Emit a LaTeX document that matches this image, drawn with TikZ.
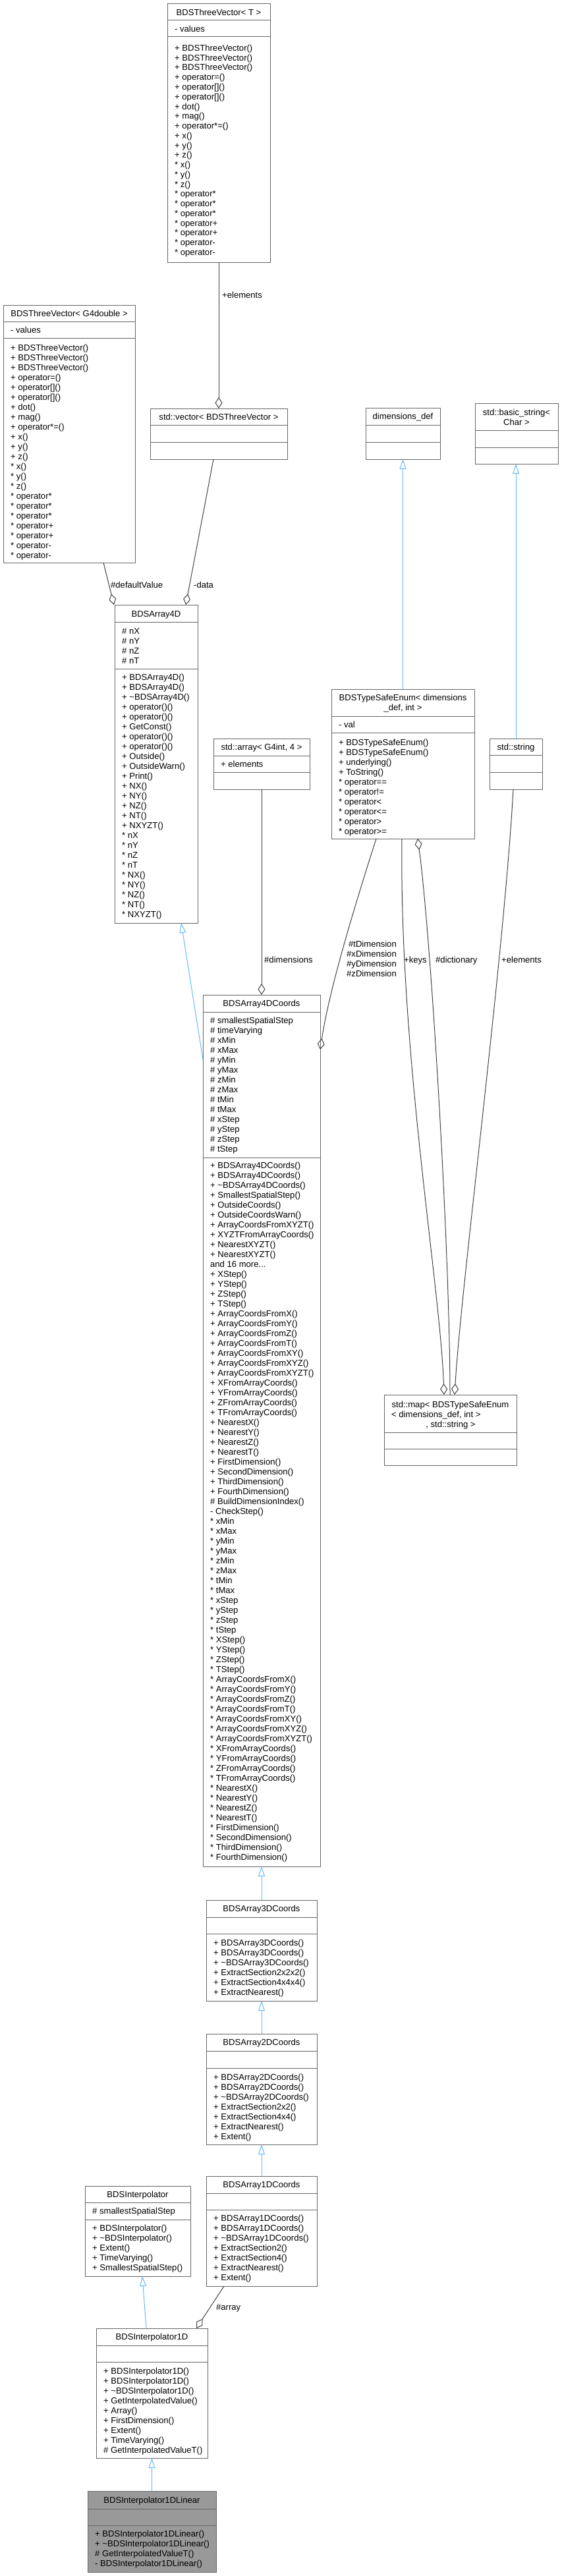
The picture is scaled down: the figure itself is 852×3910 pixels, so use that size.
\documentclass[tikz,border=0pt]{standalone}
\usepackage{fontspec}
\setmainfont{Liberation Sans}
\usetikzlibrary{arrows.meta}
\definecolor{boxc}{HTML}{666666}
\definecolor{aggc}{HTML}{404040}
\definecolor{inhc}{HTML}{63B8FF}
\definecolor{selc}{HTML}{999999}
\tikzset{
  clsbox/.style={draw=boxc, line width=1pt, anchor=north west, inner sep=0pt, outer sep=0pt, rectangle},
  sepline/.style={draw=boxc, line width=1pt},
  txt/.style={anchor=base west, inner sep=0pt, font=\fontsize{13.08}{15}\selectfont},
  ttl/.style={anchor=base, inner sep=0pt, font=\fontsize{13.08}{15}\selectfont},
  lbl/.style={anchor=base west, inner sep=0pt, font=\fontsize{13.08}{15}\selectfont},
  lblr/.style={anchor=base east, inner sep=0pt, font=\fontsize{13.08}{15}\selectfont},
  inh/.style={draw=inhc, line width=1pt, -{Triangle[open, length=15pt, width=10pt]}},
  agg/.style={draw=aggc, line width=1pt, -{Diamond[open, length=17pt, width=11pt]}},
  aggrev/.style={draw=aggc, line width=1pt, {Diamond[open, length=17pt, width=11pt]}-},
}
% name, x, y, w, h, fill
\newcommand\mkbox[6]{\node[clsbox, fill=#6, minimum width=#4pt, minimum height=#5pt] (#1) at (#2,#3) {};}
% node, offset from top
\newcommand\mksep[2]{\draw[sepline] ([yshift=-#2pt]#1.north west) -- ([yshift=-#2pt]#1.north east);}
% prefix, x, first baseline, spacing, list
\newcommand\mklines[5]{\foreach \t [count=\i from 0] in {#5} {\node[txt] (#1-\i) at ({#2},{#3+\i*#4}) {\t};}}
\begin{document}
\begin{tikzpicture}[x=1pt,y=-1pt]
\useasboundingbox (0,0) rectangle (852,3910);

% ---------- BDSThreeVector< T >
\mkbox{TVT}{254}{6}{156}{392}{white}
\mksep{TVT}{25}\mksep{TVT}{50}
\node[ttl] (TVT-t) at (332,23.5) {BDSThreeVector< T >};
\mklines{tvta}{265}{49}{15}{- values}
\mklines{tvtm}{265}{77.5}{14.75}{+ BDSThreeVector(), + BDSThreeVector(), + BDSThreeVector(), + operator=(), + operator[](), + operator[](), + dot(), + mag(), + operator*=(), + x(), + y(), + z(), * x(), * y(), * z(), * operator*, * operator*, * operator*, * operator+, * operator+, * operator-, * operator-}

% ---------- BDSThreeVector< G4double >
\mkbox{TVG}{5}{463}{200}{391}{white}
\mksep{TVG}{25}\mksep{TVG}{50}
\node[ttl] (TVG-t) at (105,480.5) {BDSThreeVector< G4double >};
\mklines{tvga}{16}{505.5}{15}{- values}
\mklines{tvgm}{16}{532.5}{15}{+ BDSThreeVector(), + BDSThreeVector(), + BDSThreeVector(), + operator=(), + operator[](), + operator[](), + dot(), + mag(), + operator*=(), + x(), + y(), + z(), * x(), * y(), * z(), * operator*, * operator*, * operator*, * operator+, * operator+, * operator-, * operator-}

% ---------- std::vector< BDSThreeVector >
\mkbox{VEC}{228}{620}{208}{77}{white}
\mksep{VEC}{25}\mksep{VEC}{51}
\node[ttl] (VEC-t) at (332,637.5) {std::vector< BDSThreeVector >};

% ---------- dimensions_def
\mkbox{DIM}{555}{619}{113}{78}{white}
\mksep{DIM}{26}\mksep{DIM}{52}
\node[ttl] (DIM-t) at (611.5,636.5) {dimensions\_def};

% ---------- std::basic_string< Char >
\mkbox{BST}{721}{612}{126}{92}{white}
\mksep{BST}{41}\mksep{BST}{67}
\node[ttl] (BST-t1) at (784,630.5) {std::basic\_string<};
\node[ttl] (BST-t2) at (784,645.5) {Char >};

% ---------- BDSArray4D
\mkbox{A4D}{174}{918}{126}{483}{white}
\mksep{A4D}{26}\mksep{A4D}{97}
\node[ttl] (A4D-t) at (237,936.5) {BDSArray4D};
\mklines{a4da}{185}{962.5}{15}{\# nX, \# nY, \# nZ, \# nT}
\mklines{a4dm}{185}{1032.5}{15}{+ BDSArray4D(), + BDSArray4D(), + \textasciitilde BDSArray4D(), + operator()(), + operator()(), + GetConst(), + operator()(), + operator()(), + Outside(), + OutsideWarn(), + Print(), + NX(), + NY(), + NZ(), + NT(), + NXYZT(), * nX, * nY, * nZ, * nT, * NX(), * NY(), * NZ(), * NT(), * NXYZT()}

% ---------- std::array< G4int, 4 >
\mkbox{ARR}{324}{1121}{146}{77}{white}
\mksep{ARR}{26}\mksep{ARR}{51}
\node[ttl] (ARR-t) at (397,1138.5) {std::array< G4int, 4 >};
\mklines{arra}{335}{1164.5}{15}{+ elements}

% ---------- BDSTypeSafeEnum
\mkbox{TSE}{503}{1046}{217}{227}{white}
\mksep{TSE}{41}\mksep{TSE}{66}
\node[ttl] (TSE-t1) at (611.5,1063.5) {BDSTypeSafeEnum< dimensions};
\node[ttl] (TSE-t2) at (611.5,1078.5) {\_def, int >};
\mklines{tsea}{514}{1104.5}{15}{- val}
\mklines{tsem}{514}{1131.5}{15}{+ BDSTypeSafeEnum(), + BDSTypeSafeEnum(), + underlying(), + ToString(), * operator==, * operator!=, * operator<, * operator<=, * operator>, * operator>=}

% ---------- std::string
\mkbox{STR}{743}{1121}{80}{77}{white}
\mksep{STR}{25}\mksep{STR}{51}
\node[ttl] (STR-t) at (783,1138.5) {std::string};

% ---------- BDSArray4DCoords
\mkbox{C4}{308}{1510}{178}{1323}{white}
\mksep{C4}{26}\mksep{C4}{247}
\node[ttl] (C4-t) at (397,1527.5) {BDSArray4DCoords};
\mklines{c4a}{319}{1553.5}{15}{\# smallestSpatialStep, \# timeVarying, \# xMin, \# xMax, \# yMin, \# yMax, \# zMin, \# zMax, \# tMin, \# tMax, \# xStep, \# yStep, \# zStep, \# tStep}
\mklines{c4m}{319}{1773.5}{15}{+ BDSArray4DCoords(), + BDSArray4DCoords(), + \textasciitilde BDSArray4DCoords(), + SmallestSpatialStep(), + OutsideCoords(), + OutsideCoordsWarn(), + ArrayCoordsFromXYZT(), + XYZTFromArrayCoords(), + NearestXYZT(), + NearestXYZT(), and 16 more{.}.., + XStep(), + YStep(), + ZStep(), + TStep(), + ArrayCoordsFromX(), + ArrayCoordsFromY(), + ArrayCoordsFromZ(), + ArrayCoordsFromT(), + ArrayCoordsFromXY(), + ArrayCoordsFromXYZ(), + ArrayCoordsFromXYZT(), + XFromArrayCoords(), + YFromArrayCoords(), + ZFromArrayCoords(), + TFromArrayCoords(), + NearestX(), + NearestY(), + NearestZ(), + NearestT(), + FirstDimension(), + SecondDimension(), + ThirdDimension(), + FourthDimension(), \# BuildDimensionIndex(), - CheckStep(), * xMin, * xMax, * yMin, * yMax, * zMin, * zMax, * tMin, * tMax, * xStep, * yStep, * zStep, * tStep, * XStep(), * YStep(), * ZStep(), * TStep(), * ArrayCoordsFromX(), * ArrayCoordsFromY(), * ArrayCoordsFromZ(), * ArrayCoordsFromT(), * ArrayCoordsFromXY(), * ArrayCoordsFromXYZ(), * ArrayCoordsFromXYZT(), * XFromArrayCoords(), * YFromArrayCoords(), * ZFromArrayCoords(), * TFromArrayCoords(), * NearestX(), * NearestY(), * NearestZ(), * NearestT(), * FirstDimension(), * SecondDimension(), * ThirdDimension(), * FourthDimension()}

% ---------- std::map
\mkbox{MAP}{583}{2117}{201}{107}{white}
\mksep{MAP}{57}\mksep{MAP}{82}
\node[ttl] (MAP-t1) at (683.5,2136.5) {std::map< BDSTypeSafeEnum};
\node[txt] (MAP-t2) at (594,2151.5) {< dimensions\_def, int >};
\node[ttl] (MAP-t3) at (684,2166.5) {, std::string >};

% ---------- BDSArray3DCoords
\mkbox{C3}{313}{2884}{168}{153}{white}
\mksep{C3}{26}\mksep{C3}{51}
\node[ttl] (C3-t) at (397,2901.5) {BDSArray3DCoords};
\mklines{c3m}{324}{2953.5}{15}{+ BDSArray3DCoords(), + BDSArray3DCoords(), + \textasciitilde BDSArray3DCoords(), + ExtractSection2x2x2(), + ExtractSection4x4x4(), + ExtractNearest()}

% ---------- BDSArray2DCoords
\mkbox{C2}{313}{3087}{168}{168}{white}
\mksep{C2}{26}\mksep{C2}{52}
\node[ttl] (C2-t) at (397,3104.5) {BDSArray2DCoords};
\mklines{c2m}{324}{3157.5}{15}{+ BDSArray2DCoords(), + BDSArray2DCoords(), + \textasciitilde BDSArray2DCoords(), + ExtractSection2x2(), + ExtractSection4x4(), + ExtractNearest(), + Extent()}

% ---------- BDSArray1DCoords
\mkbox{C1}{313}{3303}{168}{167}{white}
\mksep{C1}{26}\mksep{C1}{51}
\node[ttl] (C1-t) at (397,3320.5) {BDSArray1DCoords};
\mklines{c1m}{324}{3371.5}{15}{+ BDSArray1DCoords(), + BDSArray1DCoords(), + \textasciitilde BDSArray1DCoords(), + ExtractSection2(), + ExtractSection4(), + ExtractNearest(), + Extent()}

% ---------- BDSInterpolator
\mkbox{INT}{129}{3318}{160}{137}{white}
\mksep{INT}{25}\mksep{INT}{51}
\node[ttl] (INT-t) at (209,3335.5) {BDSInterpolator};
\mklines{inta}{140}{3360.5}{15}{\# smallestSpatialStep}
\mklines{intm}{140}{3386.5}{15}{+ BDSInterpolator(), + \textasciitilde BDSInterpolator(), + Extent(), + TimeVarying(), + SmallestSpatialStep()}

% ---------- BDSInterpolator1D
\mkbox{I1D}{146}{3534}{169}{197}{white}
\mksep{I1D}{26}\mksep{I1D}{51}
\node[ttl] (I1D-t) at (230.5,3551.5) {BDSInterpolator1D};
\mklines{i1dm}{157}{3603.5}{15}{+ BDSInterpolator1D(), + BDSInterpolator1D(), + \textasciitilde BDSInterpolator1D(), + GetInterpolatedValue(), + Array(), + FirstDimension(), + Extent(), + TimeVarying(), \# GetInterpolatedValueT()}

% ---------- BDSInterpolator1DLinear
\mkbox{LIN}{133}{3781}{195}{123}{selc}
\mksep{LIN}{27}\mksep{LIN}{52}
\node[ttl] (LIN-t) at (230.5,3799.5) {BDSInterpolator1DLinear};
\mklines{linm}{144}{3850.5}{15}{+ BDSInterpolator1DLinear(), + \textasciitilde BDSInterpolator1DLinear(), \# GetInterpolatedValueT(), - BDSInterpolator1DLinear()}

% ---------- inheritance
\draw[inh] (TSE.north -| DIM.south) -- (DIM.south);
\draw[inh] (STR.north) -- (STR.north |- BST.south);
\draw[inh] ([yshift=-98pt]C4.north west) -- ([xshift=38pt]A4D.south);
\draw[inh] (C3.north) -- (C4.south);
\draw[inh] (C2.north) -- (C3.south);
\draw[inh] (C1.north) -- (C2.south);
\draw[inh] ([xshift=-8.5pt]I1D.north) -- ([xshift=7pt]INT.south);
\draw[inh] (LIN.north) -- (I1D.south);

% ---------- aggregation
\draw[agg] (TVT.south) -- (VEC.north);
\node[lbl] (l-el1) at (337,452.5) {+elements};
\draw[agg] ([xshift=52pt]TVG.south) -- ([xshift=-64pt]A4D.north);
\node[lbl] (l-dv) at (168,892.5) {\#defaultValue};
\draw[agg] ([xshift=-8pt]VEC.south) -- ([xshift=45pt]A4D.north);
\node[lbl] (l-data) at (294,892.5) {-data};
\draw[agg] (ARR.south) -- (C4.north);
\node[lbl] (l-dim) at (401,1461.5) {\#dimensions};
\draw[agg] ([xshift=-40.5pt]TSE.south) .. controls (540,1370) and (500,1500) .. ([yshift=-83pt]C4.north east);
\node[lblr] (l-td) at (602,1437.5) {\#tDimension};
\node[lblr] (l-xd) at (602,1452.5) {\#xDimension};
\node[lblr] (l-yd) at (602,1467.5) {\#yDimension};
\node[lblr] (l-zd) at (602,1482.5) {\#zDimension};
\draw[agg] ([xshift=-1.5pt]TSE.south) .. controls (606,1600) and (668,1950) .. ([xshift=-9.5pt]MAP.north);
\node[lbl] (l-keys) at (613,1461.5) {+keys};
\draw[aggrev] ([xshift=22.5pt]TSE.south) .. controls (654,1420) and (683,1900) .. ([xshift=-0.5pt]MAP.north);
\node[lbl] (l-dict) at (661,1461.5) {\#dictionary};
\draw[agg] ([xshift=-4pt]STR.south) .. controls (765,1450) and (700,1950) .. ([xshift=6.5pt]MAP.north);
\node[lbl] (l-el2) at (761,1461.5) {+elements};
\draw[agg] ([xshift=-57pt]C1.south) -- ([xshift=67.5pt]I1D.north);
\node[lbl] (l-arr) at (328,3506.5) {\#array};
\end{tikzpicture}
\end{document}
